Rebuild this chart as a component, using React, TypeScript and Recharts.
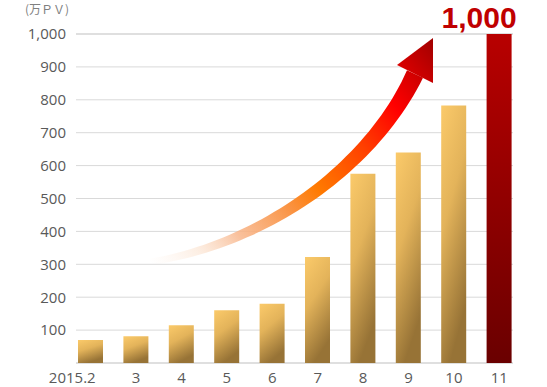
import { BarChart, Bar, Cell, XAxis, YAxis, CartesianGrid, LabelList } from 'recharts';

const MONTHS = ['2015.2', '3', '4', '5', '6', '7', '8', '9', '10', '11'];
const PAGE_VIEWS = [70, 81, 115, 160, 180, 322, 575, 640, 783, 1000];
const Y_TICKS = [0, 100, 200, 300, 400, 500, 600, 700, 800, 900, 1000];
const UNIT_LABEL = '(万ＰＶ)';
const HIGHLIGHT_LABEL = '1,000';

const data = MONTHS.map((month, i) => ({ month, pv: PAGE_VIEWS[i] }));

const W = 547;
const H = 387;
const TICK_FONT = "'Open Sans', sans-serif";

// decorative growth arrow (cubic centre line, tapered body)
const P0 = [150, 262];
const P1 = [260, 245];
const P2 = [370, 170];
const P3 = [415, 74];

function bez(t: number, a: number, b: number, c: number, d: number) {
  const u = 1 - t;
  return u * u * u * a + 3 * u * u * t * b + 3 * u * t * t * c + t * t * t * d;
}
function bezD(t: number, a: number, b: number, c: number, d: number) {
  const u = 1 - t;
  return 3 * u * u * (b - a) + 6 * u * t * (c - b) + 3 * t * t * (d - c);
}

function shaftPath() {
  const left: string[] = [];
  const right: string[] = [];
  const n = 48;
  for (let i = 0; i <= n; i++) {
    const t = i / n;
    const x = bez(t, P0[0], P1[0], P2[0], P3[0]);
    const y = bez(t, P0[1], P1[1], P2[1], P3[1]);
    const dx = bezD(t, P0[0], P1[0], P2[0], P3[0]);
    const dy = bezD(t, P0[1], P1[1], P2[1], P3[1]);
    const len = Math.hypot(dx, dy) || 1;
    const nx = -dy / len;
    const ny = dx / len;
    const hw = 3.2 + 5.6 * t;
    left.push(`${(x + nx * hw).toFixed(1)},${(y + ny * hw).toFixed(1)}`);
    right.unshift(`${(x - nx * hw).toFixed(1)},${(y - ny * hw).toFixed(1)}`);
  }
  return `M${left.join(' L')} L${right.join(' L')} Z`;
}

function GridLine(props: any) {
  const last = Y_TICKS.length - 1;
  const strong = props.index === 0 || props.index === last;
  return (
    <line
      x1={props.x1}
      x2={props.x2}
      y1={props.y1}
      y2={props.y2}
      stroke={strong ? '#bfbfbf' : '#d9d9d9'}
      strokeWidth={1}
    />
  );
}

// first label ("2015.2") sits left of its bar in the original
function MonthTick(props: any) {
  const { x, y, payload, index } = props;
  const first = index === 0;
  return (
    <text
      x={first ? Number(x) + 5 : x}
      y={y}
      dy="0.71em"
      textAnchor={first ? 'end' : 'middle'}
      fill="#595959"
      fontSize={15}
      fontFamily={TICK_FONT}
    >
      {payload.value}
    </text>
  );
}

function PeakLabel(props: any) {
  const { x, y, width, index } = props;
  if (index !== PAGE_VIEWS.length - 1) return null;
  return (
    <text
      x={Number(x) + Number(width) + 5}
      y={Number(y) - 6}
      textAnchor="end"
      fill="#c00000"
      fontSize={30}
      fontWeight={700}
      fontFamily="'Liberation Sans', Arial, sans-serif"
    >
      {HIGHLIGHT_LABEL}
    </text>
  );
}

export default function App() {
  return (
    <div style={{ position: 'absolute', left: 0, top: 0, width: W, height: H, background: '#fff' }}>
      <BarChart width={W} height={H} data={data} margin={{ top: 34, right: 25, left: 0, bottom: 0 }}>
        <defs>
          <linearGradient id="goldBar" x1="0" y1="0" x2="0.35" y2="1">
            <stop offset="0%" stopColor="#fbca6a" />
            <stop offset="45%" stopColor="#e3b35a" />
            <stop offset="100%" stopColor="#977336" />
          </linearGradient>
          <linearGradient id="redBar" x1="0" y1="0" x2="0" y2="1">
            <stop offset="0%" stopColor="#b80000" />
            <stop offset="100%" stopColor="#6a0000" />
          </linearGradient>
        </defs>
        <CartesianGrid vertical={false} x={76} width={437} horizontal={GridLine} />
        <XAxis
          dataKey="month"
          height={24}
          interval={0}
          axisLine={false}
          tickLine={false}
          tickSize={0}
          tickMargin={9}
          tick={<MonthTick />}
        />
        <YAxis
          width={68}
          domain={[0, 1000]}
          ticks={Y_TICKS}
          tickFormatter={(v) => (v === 0 ? '' : v.toLocaleString('en-US'))}
          axisLine={false}
          tickLine={false}
          tickSize={0}
          tickMargin={2}
          tick={{ fill: '#595959', fontSize: 15, fontFamily: TICK_FONT }}
        />
        <Bar dataKey="pv" barSize={25} isAnimationActive={false}>
          {data.map((d, i) => (
            <Cell key={d.month} fill={i === data.length - 1 ? 'url(#redBar)' : 'url(#goldBar)'} />
          ))}
          <LabelList dataKey="pv" content={PeakLabel} />
        </Bar>
      </BarChart>

      {/* overlay: unit caption and growth arrow */}
      <svg width={W} height={H} style={{ position: 'absolute', left: 0, top: 0, pointerEvents: 'none' }}>
        <defs>
          <linearGradient id="arrowGrad" gradientUnits="userSpaceOnUse" x1={150} y1={262} x2={433} y2={38}>
            <stop offset="0" stopColor="#fce6d6" stopOpacity={0} />
            <stop offset="0.12" stopColor="#fadcc4" stopOpacity={0.45} />
            <stop offset="0.24" stopColor="#f8b58a" stopOpacity={0.85} />
            <stop offset="0.4" stopColor="#fa9240" />
            <stop offset="0.49" stopColor="#ff7a00" />
            <stop offset="0.66" stopColor="#ff4000" />
            <stop offset="0.8" stopColor="#ff0000" />
            <stop offset="0.9" stopColor="#d00000" />
            <stop offset="1" stopColor="#a00000" />
          </linearGradient>
        </defs>
        <text x={25} y={14} fontSize={12} fill="#808080" fontFamily="'Noto Sans CJK JP', sans-serif">
          {UNIT_LABEL}
        </text>
        <path d={shaftPath()} fill="url(#arrowGrad)" />
        <polygon points="433,38 397,65 433,83" fill="url(#arrowGrad)" />
      </svg>
    </div>
  );
}
